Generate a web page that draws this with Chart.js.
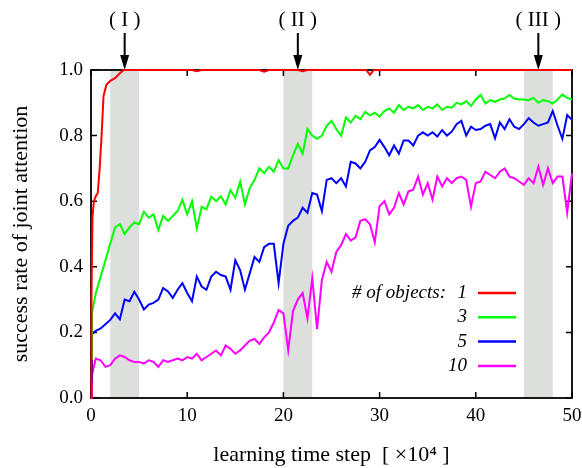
<!DOCTYPE html>
<html>
<head>
<meta charset="utf-8">
<script src="https://cdn.jsdelivr.net/npm/chart.js@4.4.1/dist/chart.umd.min.js"></script>
<style>
  html, body { margin: 0; padding: 0; background: #fff; }
  #chart { display: block; }
</style>
</head>
<body>
<canvas id="chart" width="582" height="468"></canvas>
<script>
// learning time step (x 10^4) at which the 3 / 5 / 10 object curves are sampled
const xSteps = [0, 0.1, 0.5, 1, 1.5, 2, 2.5, 3, 3.5, 4, 4.5, 5, 5.5, 6, 6.5, 7, 7.5, 8, 8.5, 9, 9.5,
  10, 10.5, 11, 11.5, 12, 12.5, 13, 13.5, 14, 14.5, 15, 15.5, 16, 16.5, 17, 17.5, 18, 18.5, 19, 19.5,
  20, 20.5, 21, 21.5, 22, 22.5, 23, 23.5, 24, 24.5, 25, 25.5, 26, 26.5, 27, 27.5, 28, 28.5, 29, 29.5,
  30, 30.5, 31, 31.5, 32, 32.5, 33, 33.5, 34, 34.5, 35, 35.5, 36, 36.5, 37, 37.5, 38, 38.5, 39, 39.5,
  40, 40.5, 41, 41.5, 42, 42.5, 43, 43.5, 44, 44.5, 45, 45.5, 46, 46.5, 47, 47.5, 48, 48.5, 49, 49.5, 50];

// 1 object: rises fast, then sits at 1.0
const redSteps = [0, 0.05, 0.15, 0.3, 0.5, 0.7, 0.9, 1.1, 1.3, 1.6, 2.0, 2.5, 3.0, 3.4,
  10.5, 11, 11.5, 17.5, 18, 18.5, 21.5, 22, 22.5, 28.6, 29, 29.4, 50];
const redValues = [0, 0.3, 0.55, 0.6, 0.615, 0.625, 0.7, 0.8, 0.92, 0.955, 0.967, 0.975, 0.99, 1.0,
  1.0, 0.996, 1.0, 1.0, 0.995, 1.0, 1.0, 0.996, 1.0, 1.0, 0.985, 1.0, 1.0];

const greenValues = [0.12, 0.26, 0.32, 0.37, 0.42, 0.47, 0.52, 0.53, 0.50, 0.52, 0.535, 0.53, 0.568, 0.55, 0.56, 0.512, 0.555, 0.54, 0.555, 0.57, 0.604,
  0.56, 0.60, 0.517, 0.583, 0.575, 0.614, 0.60, 0.615, 0.59, 0.634, 0.61, 0.66, 0.59, 0.64, 0.665, 0.70, 0.685, 0.705, 0.69, 0.725,
  0.70, 0.70, 0.74, 0.775, 0.745, 0.82, 0.80, 0.79, 0.80, 0.83, 0.845, 0.82, 0.80, 0.855, 0.84, 0.86, 0.85, 0.872, 0.862, 0.87,
  0.858, 0.875, 0.883, 0.87, 0.893, 0.878, 0.888, 0.883, 0.893, 0.878, 0.888, 0.883, 0.895, 0.878, 0.888, 0.885, 0.90, 0.895, 0.905, 0.89,
  0.91, 0.924, 0.898, 0.908, 0.903, 0.91, 0.913, 0.924, 0.913, 0.91, 0.91, 0.908, 0.915, 0.90, 0.908, 0.905, 0.898, 0.91, 0.925, 0.915, 0.91];

const blueValues = [0.05, 0.195, 0.205, 0.212, 0.225, 0.238, 0.258, 0.24, 0.30, 0.295, 0.324, 0.30, 0.27, 0.285, 0.29, 0.30, 0.335, 0.325, 0.305, 0.33, 0.35,
  0.32, 0.295, 0.37, 0.34, 0.33, 0.37, 0.385, 0.375, 0.37, 0.33, 0.42, 0.39, 0.33, 0.38, 0.43, 0.415, 0.46, 0.47, 0.47, 0.35,
  0.47, 0.525, 0.54, 0.55, 0.58, 0.565, 0.625, 0.62, 0.57, 0.665, 0.67, 0.655, 0.67, 0.645, 0.72, 0.715, 0.70, 0.72, 0.755, 0.765,
  0.787, 0.765, 0.74, 0.77, 0.745, 0.785, 0.785, 0.77, 0.80, 0.81, 0.80, 0.81, 0.797, 0.817, 0.80, 0.812, 0.835, 0.845, 0.80, 0.827,
  0.817, 0.82, 0.83, 0.835, 0.792, 0.84, 0.82, 0.85, 0.827, 0.82, 0.835, 0.853, 0.84, 0.83, 0.835, 0.84, 0.875, 0.83, 0.79, 0.863, 0.848];

const magentaValues = [0, 0.07, 0.12, 0.115, 0.095, 0.10, 0.12, 0.13, 0.125, 0.115, 0.11, 0.11, 0.105, 0.115, 0.11, 0.095, 0.115, 0.11, 0.115, 0.12, 0.115,
  0.125, 0.12, 0.135, 0.115, 0.125, 0.135, 0.145, 0.13, 0.16, 0.15, 0.135, 0.145, 0.16, 0.175, 0.18, 0.165, 0.185, 0.20, 0.23, 0.268,
  0.258, 0.146, 0.265, 0.30, 0.32, 0.243, 0.365, 0.21, 0.36, 0.415, 0.385, 0.445, 0.466, 0.50, 0.48, 0.49, 0.54, 0.545, 0.53, 0.475,
  0.585, 0.60, 0.56, 0.58, 0.625, 0.59, 0.63, 0.635, 0.675, 0.62, 0.655, 0.605, 0.675, 0.645, 0.67, 0.655, 0.67, 0.675, 0.665, 0.583,
  0.655, 0.66, 0.69, 0.68, 0.67, 0.69, 0.70, 0.675, 0.67, 0.66, 0.65, 0.67, 0.655, 0.705, 0.65, 0.70, 0.655, 0.675, 0.675, 0.565, 0.685];

const seriesLabels = ['1', '3', '5', '10'];
const seriesColors = ['#ff0000', '#00ff00', '#0000ff', '#ff00ff'];

// shaded phases and the arrows above them
const bands = [[2, 5], [20, 23], [45, 48]];
const markSteps = [3.5, 21.5, 46.5];
const markLabels = ['( I )', '( II )', '( III )'];

const serif = "'Liberation Serif', 'Times New Roman', serif";

function toPoints(xs, ys) {
  return xs.map((x, i) => ({ x: x, y: ys[i] }));
}

// keep the plot box fixed, no extra room for overhanging tick labels
function fixBox(size, horizontal) {
  return s => {
    if (horizontal) s.height = size; else s.width = size;
    s.paddingLeft = s.paddingRight = s.paddingTop = s.paddingBottom = 0;
  };
}

const decorations = {
  id: 'decorations',
  beforeDatasetsDraw(chart) {
    const { ctx, chartArea: a, scales: { x, y } } = chart;
    ctx.save();
    // grey bands
    ctx.fillStyle = '#dcdfdc';
    bands.forEach(([s, e]) => {
      const x0 = x.getPixelForValue(s);
      const x1 = x.getPixelForValue(e);
      ctx.fillRect(x0, a.top, x1 - x0, a.bottom - a.top);
    });
    // frame
    ctx.strokeStyle = '#000';
    ctx.lineWidth = 1.8;
    ctx.strokeRect(a.left, a.top, a.right - a.left, a.bottom - a.top);
    // inward ticks on all four sides
    ctx.lineWidth = 1.5;
    ctx.beginPath();
    x.ticks.forEach(t => {
      const px = x.getPixelForValue(t.value);
      ctx.moveTo(px, a.bottom); ctx.lineTo(px, a.bottom - 6);
      ctx.moveTo(px, a.top); ctx.lineTo(px, a.top + 6);
    });
    y.ticks.forEach(t => {
      const py = y.getPixelForValue(t.value);
      ctx.moveTo(a.left, py); ctx.lineTo(a.left + 6, py);
      ctx.moveTo(a.right, py); ctx.lineTo(a.right - 6, py);
    });
    ctx.stroke();
    ctx.restore();
  },
  afterDatasetsDraw(chart) {
    const { ctx, chartArea: a } = chart;
    ctx.save();
    // legend, gnuplot style
    ctx.font = 'italic 19px ' + serif;
    ctx.fillStyle = '#000';
    ctx.textAlign = 'right';
    ctx.textBaseline = 'middle';
    const top = a.top + 223;
    ctx.fillText('# of objects:', a.right - 126, top);
    chart.data.datasets.forEach((ds, i) => {
      const ry = top + i * 24.3;
      ctx.fillStyle = '#000';
      ctx.fillText(ds.label, a.right - 105, ry);
      ctx.strokeStyle = ds.borderColor;
      ctx.lineWidth = 2.5;
      ctx.beginPath();
      ctx.moveTo(a.right - 94, ry);
      ctx.lineTo(a.right - 56, ry);
      ctx.stroke();
    });
    ctx.restore();
  },
  afterDraw(chart) {
    const { ctx, chartArea: a, scales: { x } } = chart;
    ctx.save();
    ctx.fillStyle = '#000';
    ctx.strokeStyle = '#000';
    ctx.font = '21px ' + serif;
    ctx.textAlign = 'center';
    ctx.textBaseline = 'middle';
    markSteps.forEach((s, i) => {
      const px = x.getPixelForValue(s);
      ctx.fillText(markLabels[i], px, 20);
      ctx.lineWidth = 2;
      ctx.beginPath();
      ctx.moveTo(px, 33);
      ctx.lineTo(px, a.top - 10);
      ctx.stroke();
      ctx.beginPath();
      ctx.moveTo(px - 4.5, a.top - 15);
      ctx.lineTo(px + 4.5, a.top - 15);
      ctx.lineTo(px, a.top);
      ctx.closePath();
      ctx.fill();
    });
    ctx.restore();
  }
};

const datasets = [
  toPoints(redSteps, redValues),
  toPoints(xSteps, greenValues),
  toPoints(xSteps, blueValues),
  toPoints(xSteps, magentaValues)
].map((pts, i) => ({
  label: seriesLabels[i],
  data: pts,
  borderColor: seriesColors[i],
  borderWidth: 2,
  pointRadius: 0,
  tension: 0,
  fill: false,
  clip: 4
}));

new Chart(document.getElementById('chart').getContext('2d'), {
  type: 'line',
  data: { datasets },
  plugins: [decorations],
  options: {
    responsive: false,
    animation: false,
    devicePixelRatio: 1,
    layout: { padding: { top: 70, right: 10, bottom: 0, left: 0 } },
    plugins: { legend: { display: false }, tooltip: { enabled: false } },
    scales: {
      x: {
        type: 'linear',
        min: 0,
        max: 50,
        afterFit: fixBox(70, true),
        grid: { display: false, drawTicks: false },
        border: { display: false },
        ticks: { stepSize: 10, padding: 7, color: '#000', font: { family: serif, size: 19 } },
        title: {
          display: true,
          text: 'learning time step  [ ×10⁴ ]',
          color: '#000',
          font: { family: serif, size: 22 },
          padding: { top: 0, bottom: 0 }
        }
      },
      y: {
        min: 0,
        max: 1,
        afterFit: fixBox(91, false),
        grid: { display: false, drawTicks: false },
        border: { display: false },
        ticks: {
          stepSize: 0.2,
          padding: 8,
          color: '#000',
          font: { family: serif, size: 19 },
          callback: v => v.toFixed(1)
        },
        title: {
          display: true,
          text: 'success rate of joint attention',
          color: '#000',
          font: { family: serif, size: 22 },
          padding: { top: 8, bottom: 0 }
        }
      }
    }
  }
});
</script>
</body>
</html>
